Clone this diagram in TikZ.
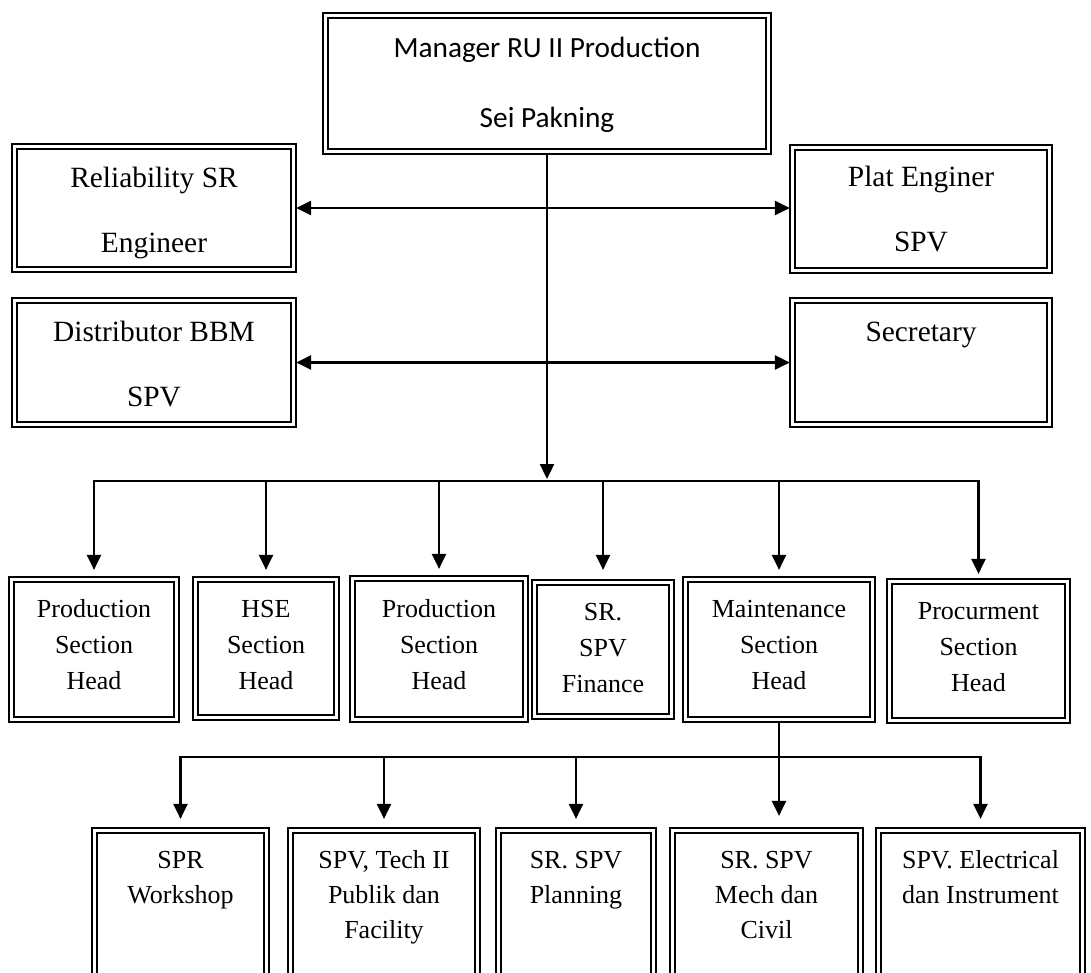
\documentclass[tikz,border=0pt]{standalone}
\usepackage{fontspec}
\setmainfont{Liberation Serif}
\newfontfamily\calfont{Carlito}
\usetikzlibrary{arrows.meta}
\newcommand\topfont{\calfont\fontsize{29.3}{70}\selectfont}
\newcommand\upfont{\fontsize{29.4}{65}\selectfont}
\newcommand\lowfont{\fontsize{26}{36}\selectfont}
\newcommand\botfont{\fontsize{26}{35}\selectfont}
\newcommand\orgbox[8]{\node[dbox,anchor=north west] (#1) at (#2,#3) {\parbox[c][#5pt][t]{#4pt}{#6\centering\rule{0pt}{#7pt}#8}};}
\tikzset{
  dbox/.style={draw=black, line width=2.7pt, rectangle, inner sep=0pt, outer sep=0pt},
  outerframe/.style={draw=black, line width=1.8pt},
  conn/.style={draw=black, line width=2.3pt, line join=miter},
  busline/.style={draw=black, line width=2.3pt, line cap=rect},
  tipd/.style={-{Triangle[length=15pt,width=14pt]}},
  tipb/.style={{Triangle[length=15pt,width=14pt]}-{Triangle[length=15pt,width=14pt]}}
}
\begin{document}
\begin{tikzpicture}[x=1pt,y=-1pt]
\useasboundingbox (0,0) rectangle (1091,972);
\fill[white] (0,0) rectangle (1091,972);
\clip (0,0) rectangle (1091,972);
% top level
\orgbox{top}{327.9}{17.9}{438.2}{131.2}{\topfont}{39.4}{Manager RU II Production\\Sei Pakning}
\orgbox{rel}{16.9}{148.9}{274.2}{118.2}{\upfont}{38.1}{Reliability SR\\Engineer}
\orgbox{plat}{794.9}{149.9}{252.2}{118.2}{\upfont}{36.8}{Plat Enginer\\SPV}
\orgbox{dist}{16.9}{302.9}{274.2}{119.2}{\upfont}{38.1}{Distributor BBM\\SPV}
\orgbox{sec}{794.9}{302.9}{252.2}{119.2}{\upfont}{38.8}{Secretary}
% second row
\orgbox{pa}{13.9}{581.9}{160.2}{135.2}{\lowfont}{35.1}{Production\\Section\\Head}
\orgbox{hse}{197.9}{581.9}{136.2}{133.2}{\lowfont}{35.1}{HSE\\Section\\Head}
\orgbox{pb}{354.9}{580.9}{168.2}{136.2}{\lowfont}{36.1}{Production\\Section\\Head}
\orgbox{sr}{536.9}{584.9}{132.2}{129.2}{\lowfont}{35.1}{SR.\\SPV\\Finance}
\orgbox{maint}{687.9}{581.9}{182.2}{135.2}{\lowfont}{35.1}{Maintenance\\Section\\Head}
\orgbox{proc}{891.9}{583.9}{173.2}{134.2}{\lowfont}{35.1}{Procurment\\Section\\Head}
% third row
\orgbox{spr}{96.9}{832.9}{167.2}{146.2}{\botfont}{35.1}{SPR\\Workshop}
\orgbox{tech}{292.9}{832.9}{182.2}{146.2}{\botfont}{35.1}{SPV, Tech II\\Publik dan\\Facility}
\orgbox{plan}{500.9}{832.9}{150.2}{146.2}{\botfont}{35.1}{SR. SPV\\Planning}
\orgbox{mech}{674.9}{832.9}{183.2}{146.2}{\botfont}{35.1}{SR. SPV\\Mech dan\\Civil}
\orgbox{elec}{880.9}{832.9}{199.2}{146.2}{\botfont}{35.1}{SPV. Electrical\\dan Instrument}
% outer frames
\foreach \n in {top,rel,plat,dist,sec,pa,hse,pb,sr,maint,proc,spr,tech,plan,mech,elec}
  \draw[outerframe] ([shift={(-5.1,-5.1)}]\n.north west) rectangle ([shift={(5.1,5.1)}]\n.south east);
% connectors
\coordinate (hub) at (547,481);
\coordinate (hubb) at (779,757);
\draw[conn,tipd] ([yshift=-6pt]top.south) -- ([yshift=2pt]top.south |- hub);
\coordinate (ra) at ([xshift=5pt]rel.east);
\coordinate (rb) at ([xshift=-5pt]plat.west);
\draw[conn,tipb] (ra) -- (ra -| rb);
\coordinate (da) at ([xshift=5pt]dist.east);
\coordinate (db) at ([xshift=-5pt]sec.west);
\draw[conn,tipb] (da) -- (da -| db);
\draw[busline] (pa.north |- hub) -- (proc.north |- hub);
\foreach \n in {pa,hse,pb,maint}
  \draw[conn,tipd] (\n.north |- hub) -- ([yshift=12pt]\n.north);
\draw[conn,tipd] (proc.north |- hub) -- ([yshift=10pt]proc.north);
\draw[conn,tipd] (sr.north |- hub) -- ([yshift=15pt]sr.north);
\draw[conn,tipd] ([yshift=-6pt]maint.south) -- ([yshift=17pt]maint.south |- mech.north);
\draw[busline] (spr.north |- hubb) -- (elec.north |- hubb);
\foreach \n in {spr,tech,plan,elec}
  \draw[conn,tipd] (\n.north |- hubb) -- ([yshift=14pt]\n.north);
\end{tikzpicture}
\end{document}
